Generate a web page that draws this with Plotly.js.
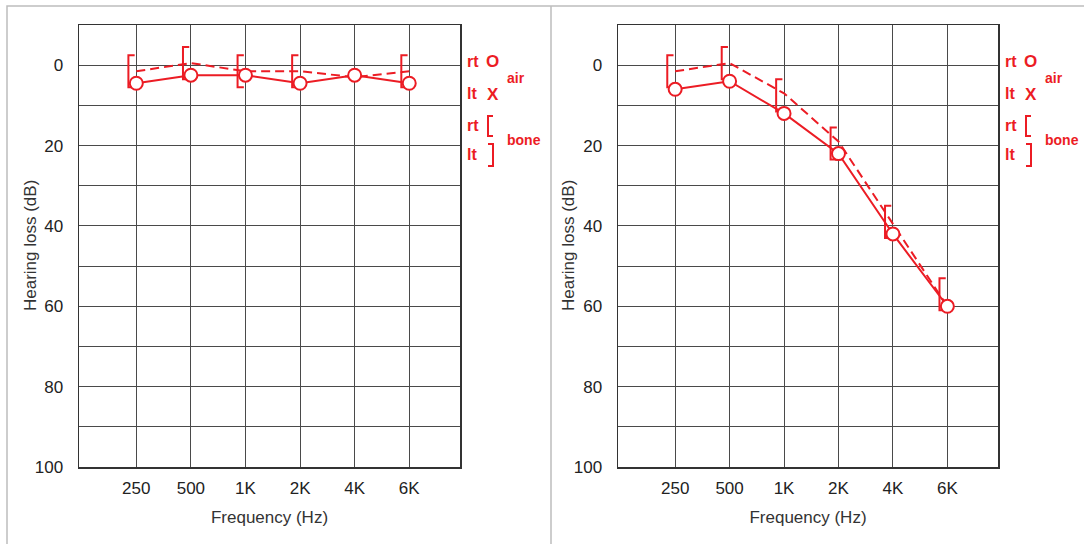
<!DOCTYPE html>
<html>
<head>
<meta charset="utf-8">
<script src="https://cdn.plot.ly/plotly-3.0.1.min.js"></script>
<style>html,body{margin:0;padding:0;background:#fff;}#chart{width:1084px;height:544px;}</style>
</head>
<body>
<div id="chart"></div>
<script>
// ---------- data ----------
const freqLabels = ['250', '500', '1K', '2K', '4K', '6K'];
// Left audiogram (normal hearing)
const leftRtAir  = [4.5, 2.5, 2.5, 4.5, 2.5, 4.5];     // circles, solid line
const leftLtAir  = [1.5, -0.5, 1.5, 1.5, 3, 1.5];      // dashed line
const leftRtBone = [1.5, -0.5, 1.5, 1.5, null, 1.5];   // "[" brackets
// Right audiogram (high-frequency loss)
const rightRtAir  = [6, 4, 12, 22, 42, 60];
const rightLtAir  = [1.5, -0.5, 7, 19, 39.5, 60];
const rightRtBone = [1.5, -0.5, 7.5, 19.5, 39, 57];

const yTickVals = [0, 10, 20, 30, 40, 50, 60, 70, 80, 90, 100];
const yTickText = ['0', '', '20', '', '40', '', '60', '', '80', '', '100'];
const yTitle = 'Hearing loss (dB)';
const xTitle = 'Frequency (Hz)';

// ---------- styling ----------
const RED = '#ec1c24';
const GRID = '#4a4a4a';
const FONT = 'Liberation Sans, Arial, Helvetica, sans-serif';
const W = 1084, H = 544;
const M = {l: 79, r: 86, t: 25, b: 77};
const PW = W - M.l - M.r, PH = H - M.t - M.b;
const px = x => (x - M.l) / PW;
const py = y => (H - M.b - y) / PH;

const idx = freqLabels.map((_, i) => i);

function bracketPath(vals) {
  const xs = [], ys = [];
  vals.forEach((v, i) => {
    if (v === null) return;
    xs.push(i - 0.03, i - 0.145, i - 0.145, i - 0.03, null);
    ys.push(v - 4, v - 4, v + 4, v + 4, null);
  });
  return {xs, ys};
}

function panelTraces(rtAir, ltAir, rtBone, xa, ya) {
  const b = bracketPath(rtBone);
  return [
    {x: idx, y: ltAir, xaxis: xa, yaxis: ya, mode: 'lines', type: 'scatter',
     line: {color: RED, width: 2, dash: '9px,5px'}, hoverinfo: 'skip', showlegend: false},
    {x: b.xs, y: b.ys, xaxis: xa, yaxis: ya, mode: 'lines', type: 'scatter',
     line: {color: RED, width: 2}, connectgaps: false, hoverinfo: 'skip', showlegend: false},
    {x: idx, y: rtAir, xaxis: xa, yaxis: ya, mode: 'lines+markers', type: 'scatter',
     line: {color: RED, width: 2},
     marker: {symbol: 'circle', size: 13, color: 'white', line: {color: RED, width: 2}},
     hoverinfo: 'skip', showlegend: false}
  ];
}

const data = [
  ...panelTraces(leftRtAir, leftLtAir, leftRtBone, 'x', 'y'),
  ...panelTraces(rightRtAir, rightLtAir, rightRtBone, 'x2', 'y2')
];

function xAxis(domain, anchor) {
  return {
    domain, anchor, type: 'linear', range: [-1.05, 5.93],
    tickmode: 'array', tickvals: idx, ticktext: freqLabels,
    showgrid: true, gridcolor: GRID, gridwidth: 1, zeroline: false,
    showline: true, linecolor: '#333', linewidth: 1.5, mirror: true,
    ticks: '', ticklabelstandoff: 5,
    tickfont: {family: FONT, size: 17, color: '#222'},
    title: {text: xTitle, font: {family: FONT, size: 17, color: '#333'}, standoff: 14},
    fixedrange: true
  };
}
function yAxis(anchor) {
  return {
    anchor, domain: [0, 1], range: [100, -10],
    tickmode: 'array', tickvals: yTickVals, ticktext: yTickText,
    showgrid: true, gridcolor: GRID, gridwidth: 1, zeroline: false,
    showline: true, linecolor: '#333', linewidth: 1.5, mirror: true,
    ticks: '', ticklabelstandoff: 11,
    tickfont: {family: FONT, size: 17, color: '#222'},
    fixedrange: true
  };
}

const leftDom = [0, px(460)];
const rightDom = [px(618), 1];

const annotations = [];
const shapes = [];
// y-axis titles
[30, 568].forEach(x => annotations.push({
  xref: 'paper', yref: 'paper', x: px(x), y: py(246), xanchor: 'center', yanchor: 'middle',
  text: yTitle, textangle: -90, showarrow: false, font: {family: FONT, size: 17, color: '#333'}
}));
// legend annotations (per panel, offset 538px)
[0, 538].forEach(off => {
  const t = (text, x, y, anchor, size) => annotations.push({
    xref: 'paper', yref: 'paper', x: px(x + off), y: py(y), xanchor: anchor, yanchor: 'middle',
    text, showarrow: false, font: {family: FONT, size, color: RED, weight: 'bold'}
  });
  t('rt', 465, 61, 'left', 16);
  t('O', 492.5, 61, 'center', 17);
  t('air', 505, 78, 'left', 14);
  t('lt', 465, 93, 'left', 16);
  t('X', 492.5, 94, 'center', 17);
  t('rt', 465, 126, 'left', 16);
  t('bone', 505, 140, 'left', 14);
  t('lt', 465, 155, 'left', 16);
  shapes.push({type: 'path', xref: 'paper', yref: 'paper',
    path: `M ${px(493 + off)},${py(116)} L ${px(488 + off)},${py(116)} L ${px(488 + off)},${py(136)} L ${px(493 + off)},${py(136)}`,
    line: {color: RED, width: 2}});
  shapes.push({type: 'path', xref: 'paper', yref: 'paper',
    path: `M ${px(488 + off)},${py(144)} L ${px(493 + off)},${py(144)} L ${px(493 + off)},${py(166)} L ${px(488 + off)},${py(166)}`,
    line: {color: RED, width: 2}});
});
// panel frames
shapes.push({type: 'path', xref: 'paper', yref: 'paper',
  path: `M ${px(7)},${py(560)} L ${px(7)},${py(6)} L ${px(1100)},${py(6)}`,
  line: {color: '#bdbdbd', width: 1.5}});
shapes.push({type: 'line', xref: 'paper', yref: 'paper',
  x0: px(551), x1: px(551), y0: py(6), y1: py(560), line: {color: '#bdbdbd', width: 1.5}});

const layout = {
  width: W, height: H, margin: M,
  paper_bgcolor: '#fff', plot_bgcolor: '#fff',
  showlegend: false,
  xaxis: xAxis(leftDom, 'y'),
  yaxis: yAxis('x'),
  xaxis2: xAxis(rightDom, 'y2'),
  yaxis2: yAxis('x2'),
  annotations, shapes
};

Plotly.newPlot('chart', data, layout, {displayModeBar: false, staticPlot: true});
</script>
</body>
</html>
